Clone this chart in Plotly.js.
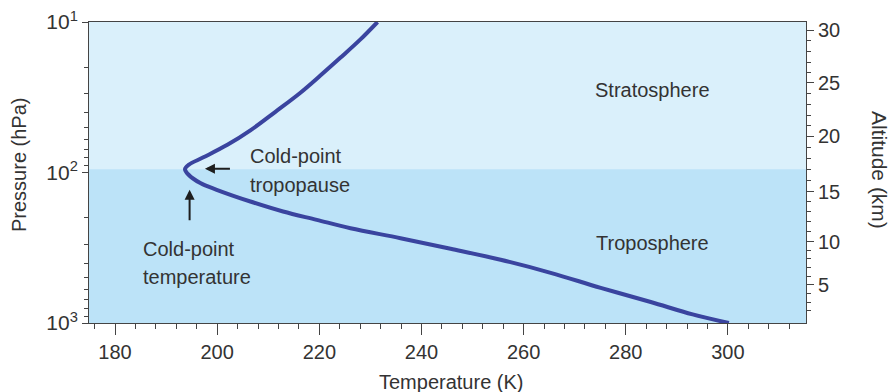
<!DOCTYPE html>
<html>
<head>
<meta charset="utf-8">
<script src="https://cdn.plot.ly/plotly-3.0.1.min.js"></script>
<style>html,body{margin:0;padding:0;background:#fff;}#chart{width:891px;height:392px;}</style>
</head>
<body>
<div id="chart"></div>
<script>
// Temperature profile (K) vs pressure (hPa)
var temperatureK = [231.4, 228.0, 224.1, 220.2, 216.3, 211.4, 206.5, 202.0, 197.3, 194.4, 193.7, 194.4, 196.7, 199.9, 206.5, 212.9, 219.5, 226.1, 235.9, 245.7, 255.5, 265.3, 275.1, 284.9, 293.1, 300.2];
var pressureHPa  = [10.0, 13.1, 17.3, 22.7, 29.5, 39.5, 52.5, 65.5, 79.3, 88.9, 94.9, 103.5, 117.6, 130.3, 155.9, 181.6, 206.3, 234.4, 273.1, 321, 380, 464, 584, 725, 877, 1000];

// Tropopause pressure (boundary between stratosphere and troposphere)
var tropopauseHPa = 95;

// Axis ticks
var tempTicks = [180, 200, 220, 240, 260, 280, 300];
var pressTicks = [10, 100, 1000];
var pressTickText = ['10<sup>1</sup>', '10<sup>2</sup>', '10<sup>3</sup>'];
var pressMinor = [20,30,40,50,60,70,80,90,200,300,400,500,600,700,800,900];

// Altitude (km) labels placed at their pressure levels
var altMajorKm = [5, 10, 15, 20, 25, 30];
var altMajorHPa = [558, 287.6, 133.8, 57.6, 25.4, 11.37];
var altMinorKm = [2,3,4,6,7,8,9,11,12,13,14,16,17,18,19,21,22,23,24,26,27,28,29];
var altMinorHPa = [830.9, 727.3, 637.7, 488.6, 428.2, 374.8, 328.6, 246.9, 211.8, 181.7, 155.9, 113.0, 95.5, 80.7, 68.2, 48.92, 41.53, 35.31, 29.98, 21.67, 18.45, 15.69, 13.36];

var FONT = 'Liberation Sans, Arial, sans-serif';
var TXT = '#333333';
var AX = '#444444';

var traces = [
  {x: temperatureK, y: pressureHPa, type: 'scatter', mode: 'lines',
   line: {color: '#3a449f', width: 4, shape: 'spline', smoothing: 1.0},
   hoverinfo: 'skip', showlegend: false, xaxis: 'x', yaxis: 'y'},
  {x: temperatureK, y: pressureHPa, type: 'scatter', mode: 'lines',
   line: {color: 'rgba(0,0,0,0)', width: 0},
   hoverinfo: 'skip', showlegend: false, xaxis: 'x', yaxis: 'y2'}
];

var logRange = [Math.log10(1000), Math.log10(10)];

var layout = {
  width: 891, height: 392,
  margin: {l: 89, r: 85, t: 22, b: 69},
  paper_bgcolor: '#ffffff',
  plot_bgcolor: '#bce3f8',
  font: {family: FONT, size: 20, color: TXT},
  showlegend: false,
  xaxis: {
    range: [174.9, 315.3], autorange: false,
    tickmode: 'array', tickvals: tempTicks,
    ticks: 'outside', ticklen: 11, tickwidth: 1, tickcolor: AX,
    minor: {dtick: 4, tick0: 0, ticks: 'outside', ticklen: 5, tickwidth: 1, tickcolor: AX},
    showline: true, linecolor: AX, linewidth: 1, mirror: true,
    showgrid: false, zeroline: false,
    tickfont: {family: FONT, size: 20, color: TXT}
  },
  yaxis: {
    type: 'log', range: logRange, autorange: false,
    tickmode: 'array', tickvals: pressTicks, ticktext: pressTickText,
    ticks: 'outside', ticklen: 6, tickwidth: 1, tickcolor: AX,
    minor: {tickmode: 'array', tickvals: pressMinor, ticks: 'outside', ticklen: 4, tickwidth: 1, tickcolor: AX},
    showline: true, linecolor: AX, linewidth: 1,
    showgrid: false, zeroline: false,
    tickfont: {family: FONT, size: 21, color: TXT}
  },
  yaxis2: {
    type: 'log', range: logRange, autorange: false,
    overlaying: 'y', side: 'right',
    tickmode: 'array', tickvals: altMajorHPa, ticktext: altMajorKm.map(String),
    ticks: 'outside', ticklen: 7, tickwidth: 1, tickcolor: AX,
    minor: {tickmode: 'array', tickvals: altMinorHPa, ticks: 'outside', ticklen: 4, tickwidth: 1, tickcolor: AX},
    showline: true, linecolor: AX, linewidth: 1,
    showgrid: false, zeroline: false,
    tickfont: {family: FONT, size: 20, color: TXT}
  },
  shapes: [
    {type: 'rect', xref: 'paper', yref: 'y', x0: 0, x1: 1, y0: 10, y1: tropopauseHPa,
     fillcolor: '#daf0fb', line: {width: 0}, layer: 'below'}
  ],
  annotations: [
    {text: 'Stratosphere', xref: 'x', yref: 'y', x: 273.5, y: 1.45, xanchor: 'left', yanchor: 'middle', showarrow: false, font: {size: 20, color: TXT}},
    {text: 'Troposphere', xref: 'x', yref: 'y', x: 273.7, y: 2.4675, xanchor: 'left', yanchor: 'middle', showarrow: false, font: {size: 20, color: TXT}},
    {text: 'Cold-point', xref: 'x', yref: 'y', x: 206.1, y: 1.889, xanchor: 'left', yanchor: 'middle', showarrow: false, font: {size: 20, color: TXT}},
    {text: 'tropopause', xref: 'x', yref: 'y', x: 206.1, y: 2.082, xanchor: 'left', yanchor: 'middle', showarrow: false, font: {size: 20, color: TXT}},
    {text: 'Cold-point', xref: 'x', yref: 'y', x: 185.0, y: 2.507, xanchor: 'left', yanchor: 'middle', showarrow: false, font: {size: 20, color: TXT}},
    {text: 'temperature', xref: 'x', yref: 'y', x: 185.0, y: 2.693, xanchor: 'left', yanchor: 'middle', showarrow: false, font: {size: 20, color: TXT}},
    {text: ' ', xref: 'x', yref: 'y', x: 197.6, y: 1.9754, showarrow: true, ax: 27, ay: 0,
     arrowhead: 2, arrowsize: 1, arrowwidth: 2, arrowcolor: '#1e1e1e', standoff: 0, font: {size: 2}},
    {text: ' ', xref: 'x', yref: 'y', x: 194.6, y: 2.115, showarrow: true, ax: 0, ay: 33,
     arrowhead: 2, arrowsize: 1, arrowwidth: 2, arrowcolor: '#1e1e1e', standoff: 0, font: {size: 2}},
    {text: 'Temperature (K)', xref: 'paper', yref: 'paper', x: (451.5 - 89) / 717, y: -0.2,
     xanchor: 'center', yanchor: 'middle', showarrow: false, font: {size: 20, color: TXT}},
    {text: 'Pressure (hPa)', xref: 'paper', yref: 'paper', x: -0.097, y: 0.51,
     xanchor: 'center', yanchor: 'middle', textangle: -90, showarrow: false, font: {size: 20, color: TXT}},
    {text: 'Altitude (km)', xref: 'paper', yref: 'paper', x: 1.103, y: 0.51,
     xanchor: 'center', yanchor: 'middle', textangle: 90, showarrow: false, font: {size: 21, color: TXT}}
  ]
};

// x title centre ~382 px (plot bottom at 323, plot height 301)
layout.annotations[8].y = -(382 - 323) / 301;
// y titles: centre x ~19 px (left) and ~880 px (right)
layout.annotations[9].x = (19 - 89) / 717;
layout.annotations[10].x = (880 - 89) / 717;
layout.annotations[9].y = 1 - (165 - 22) / 301;
layout.annotations[10].y = 1 - (170 - 22) / 301;

Plotly.newPlot('chart', traces, layout, {displayModeBar: false, staticPlot: true});
</script>
</body>
</html>
